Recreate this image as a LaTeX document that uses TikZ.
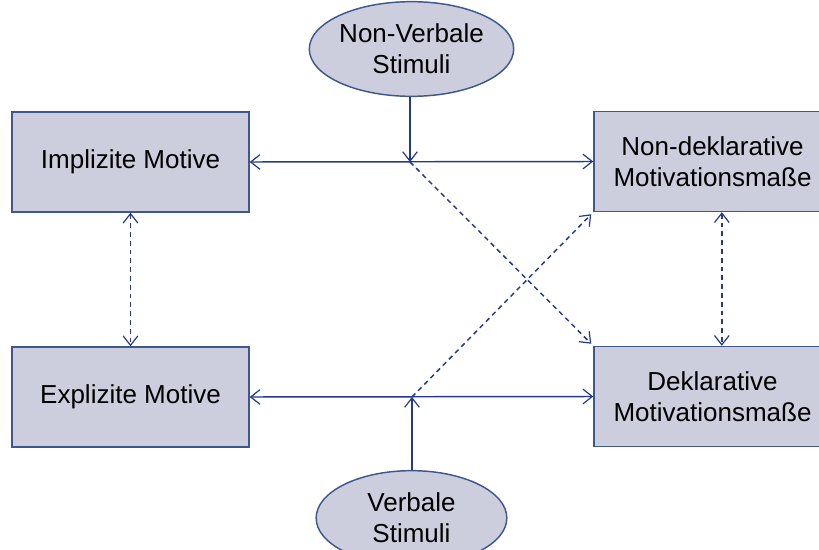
\documentclass[tikz,border=0pt]{standalone}
\usepackage{fontspec}
\setmainfont{Liberation Sans}
\usetikzlibrary{arrows.meta,shapes.geometric}
\definecolor{boxfill}{RGB}{205,206,221}
\definecolor{boxline}{RGB}{62,88,142}
\definecolor{linkcol}{RGB}{36,56,140}
\tikzset{
  x=0.75pt, y=-0.75pt,
  lbl/.style={font=\fontsize{19.5pt}{23.5pt}\selectfont, align=center, text=black},
  motbox/.style={lbl, draw=boxline, fill=boxfill, line width=1.1pt,
    rectangle, minimum width=177.75pt, minimum height=75pt, inner sep=0pt},
  stim/.style={lbl, draw=boxline, fill=boxfill, line width=1.1pt,
    ellipse, minimum width=143pt, minimum height=71pt, inner sep=0pt},
  link/.style={draw=linkcol, line width=1.1pt},
  solidlink/.style={link, -{Straight Barb[length=7pt,width=11pt,line width=0.9pt]}},
  bothlink/.style={link, {Straight Barb[length=7pt,width=11pt,line width=0.9pt]}-{Straight Barb[length=7pt,width=11pt,line width=0.9pt]}},
  dashlink/.style={link, line width=1.2pt, dash pattern=on 3.6pt off 3pt}
}
\begin{document}
\begin{tikzpicture}
\useasboundingbox (0,0) rectangle (819,550);
\clip (0,0) rectangle (819,550);

% measures and motives
\node[motbox] (impl) at (130.5,162) {Implizite Motive};
\node[motbox] (expl) at (130.5,397) {Explizite Motive};
\node[motbox] (nondekl) at (712.5,161.5) {Non-deklarative\\Motivationsmaße};
\node[motbox] (dekl) at (712.5,396.5) {Deklarative\\Motivationsmaße};

% stimulus types
\node[stim] (nvs) at (411.5,49) {Non-Verbale\\Stimuli};
\node[stim] (vs) at (411.5,518) {Verbale\\Stimuli};

% junctions on the horizontal links
\coordinate (jt) at (410,162);
\coordinate (jb) at (412,397);

% horizontal links
\draw[bothlink] (impl.east) -- (nondekl.west);
\draw[bothlink] (expl.east) -- (dekl.west);

% stimuli onto the links
\draw[solidlink] (nvs.south -| jt) -- (jt);
\draw[solidlink] (vs.north -| jb) -- (jb);

% crossing dashed links
\draw[dashlink, solidlink] (jt) -- ([shift={(-2,-2)}]dekl.north west);
\draw[dashlink, solidlink] (jb) -- ([shift={(-2,2)}]nondekl.south west);

% vertical dashed links
\draw[dashlink, bothlink] (impl.south) -- (expl.north);
\draw[dashlink, bothlink] ([xshift=7pt]nondekl.south) -- ([xshift=7pt]dekl.north);
\end{tikzpicture}
\end{document}
